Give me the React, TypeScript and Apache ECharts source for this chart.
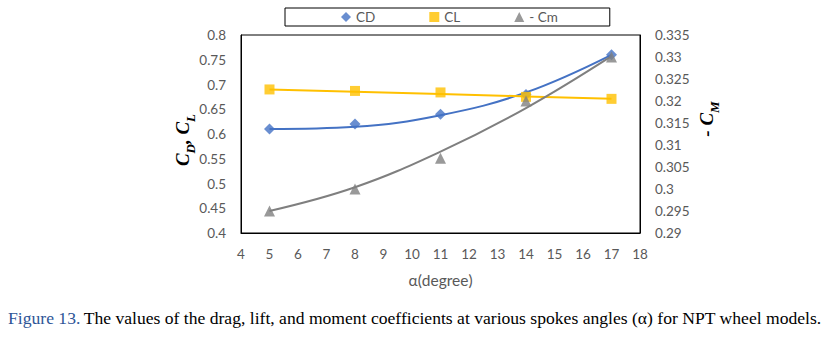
import React, { useEffect, useRef } from "react";
import * as echarts from "echarts";

const alpha = [5, 8, 11, 14, 17];
const cdValues = [0.61, 0.62, 0.64, 0.68, 0.76];
const clValues = [0.69, 0.687, 0.684, 0.675, 0.671];
const cmValues = [0.295, 0.3, 0.307, 0.32, 0.33];
// trendlines
const cdTrend = [0.61, 0.6145, 0.638, 0.684, 0.76];
const clTrend = [0.69, 0.6855, 0.681, 0.676, 0.671];
const cmTrend = [0.295, 0.3004, 0.3085, 0.3184, 0.3302];

const pairs = (xs: number[], ys: number[]) => xs.map((x, i) => [x, ys[i]]);
const fmt = (v: number) => String(parseFloat(v.toFixed(4)));

const labelColor = "#595959";
const labelFont = "Lato, 'Open Sans', sans-serif";
const serif = "'Liberation Serif', 'Times New Roman', serif";

const titleRich = {
  c: { fontFamily: serif, fontWeight: "bold", fontStyle: "italic", fontSize: 19, fill: "#000", lineHeight: 22, verticalAlign: "bottom" },
  s: { fontFamily: serif, fontWeight: "bold", fontStyle: "italic", fontSize: 13, fill: "#000", lineHeight: 22, verticalAlign: "bottom", padding: [0, 0, -5, 0] },
};

export default function App() {
  const ref = useRef<HTMLDivElement>(null);
  useEffect(() => {
    if (!ref.current) return;
    const chart = echarts.init(ref.current, null, { renderer: "svg" });
    chart.setOption({
      animation: false,
      backgroundColor: "#ffffff",
      grid: {
        left: 241,
        right: 191,
        top: 35,
        height: 198,
        show: true,
        borderColor: "#000000",
        borderWidth: 1,
      },
      legend: {
        left: 285,
        top: 8,
        padding: [2, 52, 2, 56],
        borderColor: "#000000",
        borderWidth: 1,
        itemGap: 54,
        itemWidth: 10,
        itemHeight: 10,
        textStyle: { color: labelColor, fontSize: 13.5, fontFamily: labelFont },
        data: ["CD", "CL", "- Cm"],
      },
      xAxis: {
        type: "value",
        min: 4,
        max: 18,
        interval: 1,
        name: "α(degree)",
        nameLocation: "middle",
        nameGap: 39,
        nameTextStyle: { color: labelColor, fontSize: 15.5, fontFamily: labelFont },
        axisLine: { show: true, lineStyle: { color: "#000" } },
        axisTick: { show: false },
        splitLine: { show: false },
        axisLabel: { color: labelColor, fontSize: 13.5, fontFamily: labelFont, margin: 14 },
      },
      yAxis: [
        {
          type: "value",
          min: 0.4,
          max: 0.8,
          interval: 0.05,
          position: "left",
          axisLine: { show: true, lineStyle: { color: "#000" } },
          axisTick: { show: false },
          splitLine: { show: false },
          axisLabel: { color: labelColor, fontSize: 13.5, fontFamily: labelFont, margin: 15, formatter: (v: number) => fmt(v) },
        },
        {
          type: "value",
          min: 0.29,
          max: 0.335,
          interval: 0.005,
          position: "right",
          axisLine: { show: true, lineStyle: { color: "#000" } },
          axisTick: { show: false },
          splitLine: { show: false },
          axisLabel: { color: labelColor, fontSize: 13.5, fontFamily: labelFont, margin: 15, formatter: (v: number) => fmt(v) },
        },
      ],
      series: [
        {
          name: "CD trend",
          type: "line",
          data: pairs(alpha, cdTrend),
          smooth: 0.4,
          showSymbol: false,
          lineStyle: { color: "#4472C4", width: 2 },
          z: 2,
        },
        {
          name: "CL trend",
          type: "line",
          data: pairs(alpha, clTrend),
          showSymbol: false,
          lineStyle: { color: "#FFC000", width: 2 },
          z: 2,
        },
        {
          name: "Cm trend",
          type: "line",
          yAxisIndex: 1,
          data: pairs(alpha, cmTrend),
          smooth: 0.4,
          showSymbol: false,
          lineStyle: { color: "#7F7F7F", width: 2 },
          z: 2,
        },
        {
          name: "CD",
          type: "scatter",
          data: pairs(alpha, cdValues),
          symbol: "diamond",
          symbolSize: 11,
          itemStyle: { color: "#4472C4" },
          z: 3,
        },
        {
          name: "CL",
          type: "scatter",
          data: pairs(alpha, clValues),
          symbol: "rect",
          symbolSize: 10,
          itemStyle: { color: "#FFC000" },
          z: 3,
        },
        {
          name: "- Cm",
          type: "scatter",
          yAxisIndex: 1,
          data: pairs(alpha, cmValues),
          symbol: "triangle",
          symbolSize: 11,
          itemStyle: { color: "#808080" },
          z: 3,
        },
      ],
      graphic: [
        {
          type: "text",
          x: 181,
          y: 140,
          rotation: Math.PI / 2,
          style: {
            text: "{c|C}{s|D}{c|, C}{s|L}",
            rich: titleRich,
            align: "center",
            verticalAlign: "middle",
          },
        },
        {
          type: "text",
          x: 705,
          y: 119,
          rotation: Math.PI / 2,
          style: {
            text: "{c|- C}{s|M}",
            rich: titleRich,
            align: "center",
            verticalAlign: "middle",
          },
        },
        {
          type: "text",
          left: 8,
          top: 309,
          style: {
            text: "{b|Figure 13.} {t|The values of the drag, lift, and moment coefficients at various spokes angles (α) for NPT wheel models.}",
            rich: {
              b: { fontFamily: serif, fontSize: 17.6, fill: "#2E5597" },
              t: { fontFamily: serif, fontSize: 17.6, fill: "#000000" },
            },
          },
        },
      ],
    });
    return () => chart.dispose();
  }, []);
  return (
    <div
      ref={ref}
      style={{ position: "fixed", left: 0, top: 0, width: 831, height: 350, background: "#fff" }}
    />
  );
}
